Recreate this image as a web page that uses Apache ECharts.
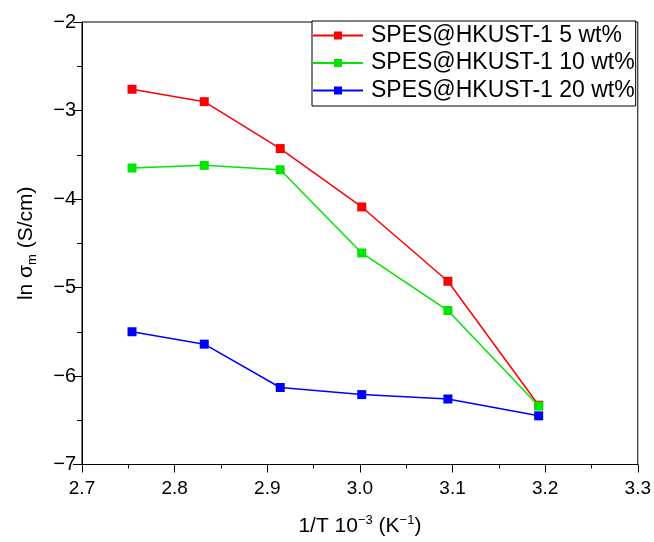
<!DOCTYPE html>
<html>
<head>
<meta charset="utf-8">
<script src="https://cdn.jsdelivr.net/npm/echarts@6/dist/echarts.min.js"></script>
<style>html,body{margin:0;padding:0;background:#fff}#c{width:654px;height:542px}</style>
</head>
<body>
<div id="c"></div>
<script>
var xValues = [2.754, 2.832, 2.914, 3.002, 3.095, 3.193];
var seriesNames = ['SPES@HKUST-1 5 wt%', 'SPES@HKUST-1 10 wt%', 'SPES@HKUST-1 20 wt%'];
var red5 = [-2.76, -2.90, -3.43, -4.09, -4.93, -6.33];
var green10 = [-3.65, -3.62, -3.67, -4.61, -5.26, -6.34];
var blue20 = [-5.50, -5.64, -6.13, -6.21, -6.26, -6.45];
var seriesColors = ['#ff0000', '#00e600', '#0000ff'];
var xTicks = {min: 2.7, max: 3.3, interval: 0.1};
var yTicks = {min: -7, max: -2, interval: 1};

var FONT = 'Liberation Sans, Arial, sans-serif';
function pairs(ys){ return xValues.map(function(x,i){ return [x, ys[i]]; }); }
var allY = [red5, green10, blue20];

var chart = echarts.init(document.getElementById('c'), null, {renderer:'canvas'});
chart.setOption({
  animation: false,
  backgroundColor: '#fff',
  grid: {left: 82, right: 13, top: 22, bottom: 70, show: true, borderColor: '#000', borderWidth: 1, backgroundColor: 'transparent'},
  legend: {
    orient: 'vertical', left: 312, top: 21,
    data: seriesNames,
    itemWidth: 50, itemHeight: 10, itemGap: 4.5,
    padding: [3, 1, 4, 0],
    borderColor: '#000', borderWidth: 1,
    backgroundColor: '#fff',
    textStyle: {fontFamily: FONT, fontSize: 23, color: '#000', lineHeight: 23, padding: [0,0,0,3]}
  },
  xAxis: {
    type: 'value', min: xTicks.min, max: xTicks.max, interval: xTicks.interval,
    name: '{b|1/T 10}{s|−3}{b| (K}{s|−1}{b|)}',
    nameLocation: 'middle', nameGap: 49,
    nameTextStyle: {rich: {
      b: {fontFamily: FONT, fontSize: 21, color: '#000', lineHeight: 26},
      s: {fontFamily: FONT, fontSize: 13, color: '#000', lineHeight: 12, verticalAlign: 'top'}
    }},
    axisLine: {show: true, onZero: false, lineStyle: {color: '#000', width: 1}},
    axisTick: {show: true, inside: false, length: 8, lineStyle: {color: '#000'}},
    minorTick: {show: true, splitNumber: 2, length: 4, lineStyle: {color: '#000'}},
    splitLine: {show: false},
    axisLabel: {fontFamily: FONT, fontSize: 19, color: '#000', margin: 15, formatter: function(v){ return v.toFixed(1); }}
  },
  yAxis: {
    type: 'value', min: yTicks.min, max: yTicks.max, interval: yTicks.interval,
    name: '{b|ln σ}{m|m}{b| (S/cm)}',
    nameLocation: 'middle', nameGap: 43, nameRotate: 90,
    nameTextStyle: {rich: {
      b: {fontFamily: FONT, fontSize: 21, color: '#000', lineHeight: 26},
      m: {fontFamily: FONT, fontSize: 13, color: '#000', lineHeight: 12, verticalAlign: 'bottom'}
    }},
    axisLine: {show: true, onZero: false, lineStyle: {color: '#000', width: 1}},
    axisTick: {show: true, inside: false, length: 9, lineStyle: {color: '#000'}},
    minorTick: {show: true, splitNumber: 2, length: 5, lineStyle: {color: '#000'}},
    splitLine: {show: false},
    axisLabel: {fontFamily: FONT, fontSize: 20, color: '#000', margin: 6, formatter: function(v){ return String(v).replace('-', '−'); }}
  },
  series: seriesNames.map(function(n, i){
    return {
      name: n, type: 'line', data: pairs(allY[i]),
      symbol: 'rect', symbolSize: 9,
      lineStyle: {color: seriesColors[i], width: 1.5},
      itemStyle: {color: seriesColors[i]},
      z: 2 + i
    };
  })
});
</script>
</body>
</html>
